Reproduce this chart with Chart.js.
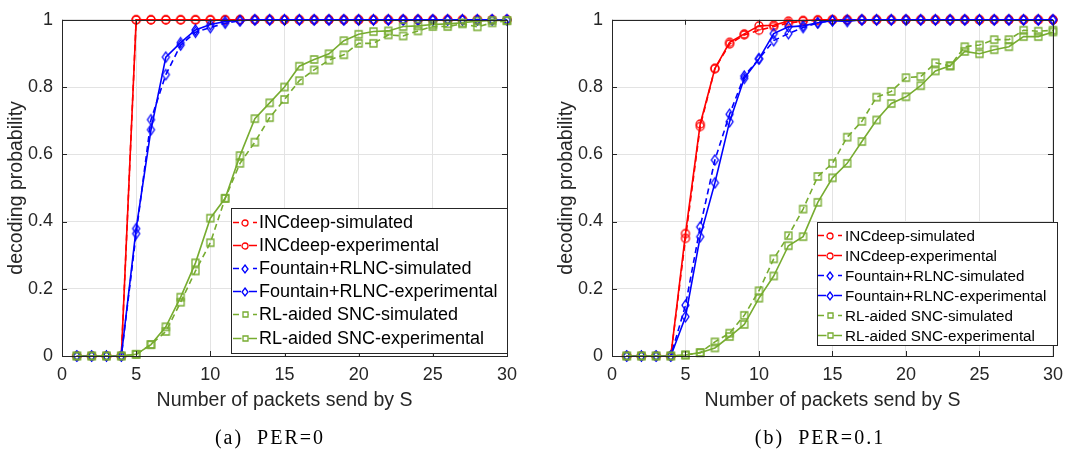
<!DOCTYPE html>
<html lang="en">
<head>
  <meta charset="UTF-8" />
  <title>Decoding probability</title>
  <script src="https://cdn.jsdelivr.net/npm/chart.js"></script>
  <style>
    body { margin: 0; background: #fff; width: 1071px; height: 454px; position: relative; overflow: hidden; }
    .panel { position: absolute; top: 0; }
    .cap { position: absolute; top: 425px; line-height: 24px; font-family: 'Liberation Serif', serif; font-size: 20px;
           color: #000; letter-spacing: 2px; white-space: pre; transform: translateX(-50%); }
  </style>
</head>
<body>
  <div class="panel" style="left:0"><canvas id="chartA" width="535" height="454"></canvas></div>
  <div class="panel" style="left:550px"><canvas id="chartB" width="521" height="454"></canvas></div>
  <div class="cap" style="left:270px">(a)  PER=0</div>
  <div class="cap" style="left:820px">(b)  PER=0.1</div>

  <script>
    // number of packets sent by S
    const packets = [1, 2, 3, 4, 5, 6, 7, 8, 9, 10, 11, 12, 13, 14, 15, 16, 17, 18, 19, 20, 21, 22, 23, 24, 25, 26, 27, 28, 29, 30];
    const xTicks = [0, 5, 10, 15, 20, 25, 30];
    const yTicks = [0, 0.2, 0.4, 0.6, 0.8, 1];
    const yTickLabels = ['0', '0.2', '0.4', '0.6', '0.8', '1'];

    const seriesNames = [
      'INCdeep-simulated', 'INCdeep-experimental',
      'Fountain+RLNC-simulated', 'Fountain+RLNC-experimental',
      'RL-aided SNC-simulated', 'RL-aided SNC-experimental'
    ];

    // (a) PER=0
    const incSimA = [0, 0, 0, 0, 1, 1, 1, 1, 1, 1, 1, 1, 1, 1, 1, 1, 1, 1, 1, 1, 1, 1, 1, 1, 1, 1, 1, 1, 1, 1];
    const incExpA = [0, 0, 0, 0, 1, 1, 1, 1, 1, 1, 1, 1, 1, 1, 1, 1, 1, 1, 1, 1, 1, 1, 1, 1, 1, 1, 1, 1, 1, 1];
    const fouSimA = [0, 0, 0, 0, 0.364, 0.703, 0.837, 0.925, 0.963, 0.977, 0.99, 0.997, 1, 1, 1, 1, 1, 1, 1, 1, 1, 1, 1, 1, 1, 1, 1, 1, 1, 1];
    const fouExpA = [0, 0, 0, 0, 0.379, 0.673, 0.889, 0.932, 0.97, 0.986, 0.995, 0.998, 1, 1, 1, 1, 1, 1, 1, 1, 1, 1, 1, 1, 1, 1, 1, 1, 1, 1];
    const sncSimA = [0, 0, 0, 0, 0.005, 0.034, 0.073, 0.16, 0.253, 0.337, 0.469, 0.573, 0.636, 0.709, 0.763, 0.819, 0.851, 0.88, 0.896, 0.93, 0.93, 0.955, 0.952, 0.967, 0.98, 0.98, 0.988, 0.979, 0.991, 0.997];
    const sncExpA = [0, 0, 0, 0, 0.005, 0.034, 0.087, 0.175, 0.277, 0.41, 0.469, 0.596, 0.706, 0.753, 0.8, 0.862, 0.882, 0.899, 0.938, 0.957, 0.965, 0.967, 0.98, 0.982, 0.986, 0.988, 0.991, 0.996, 0.998, 0.998];

    // (b) PER=0.1
    const incSimB = [0, 0, 0, 0, 0.35, 0.683, 0.855, 0.928, 0.955, 0.969, 0.98, 0.99, 0.996, 0.998, 1, 1, 1, 1, 1, 1, 1, 1, 1, 1, 1, 1, 1, 1, 1, 1];
    const incExpB = [0, 0, 0, 0, 0.364, 0.69, 0.855, 0.933, 0.958, 0.982, 0.984, 0.996, 0.998, 1, 1, 1, 1, 1, 1, 1, 1, 1, 1, 1, 1, 1, 1, 1, 1, 1];
    const fouSimB = [0, 0, 0, 0, 0.151, 0.384, 0.583, 0.719, 0.833, 0.884, 0.938, 0.959, 0.977, 0.991, 0.998, 1, 1, 1, 1, 1, 1, 1, 1, 1, 1, 1, 1, 1, 1, 1];
    const fouExpB = [0, 0, 0, 0, 0.117, 0.355, 0.515, 0.697, 0.826, 0.884, 0.959, 0.979, 0.982, 0.991, 0.997, 0.995, 1, 1, 1, 1, 1, 1, 1, 1, 1, 1, 1, 1, 1, 1];
    const sncSimB = [0, 0, 0, 0, 0.003, 0.01, 0.042, 0.068, 0.121, 0.194, 0.289, 0.358, 0.437, 0.534, 0.573, 0.651, 0.698, 0.77, 0.787, 0.828, 0.831, 0.872, 0.863, 0.92, 0.925, 0.941, 0.941, 0.969, 0.966, 0.969];
    const sncExpB = [0, 0, 0, 0, 0.003, 0.01, 0.024, 0.058, 0.094, 0.172, 0.238, 0.328, 0.355, 0.457, 0.53, 0.573, 0.638, 0.702, 0.751, 0.771, 0.804, 0.848, 0.863, 0.906, 0.899, 0.911, 0.92, 0.95, 0.95, 0.964];

    const RED = '#ff0000', BLUE = '#0000ff', GREEN = '#77ac30';
    const AXIS = '#262626', GRID = '#e3e3e3';
    const FONT = "'Liberation Sans', Arial, sans-serif";

    // open MATLAB-like markers drawn on small canvases
    function marker(shape, color, w, h) {
      const c = document.createElement('canvas');
      c.width = w + 4; c.height = h + 4;
      const g = c.getContext('2d');
      g.strokeStyle = color; g.lineWidth = 1.3;
      const cx = c.width / 2, cy = c.height / 2;
      g.beginPath();
      if (shape === 'circle') g.arc(cx, cy, w / 2, 0, Math.PI * 2);
      else if (shape === 'diamond') {
        g.moveTo(cx, cy - h / 2); g.lineTo(cx + w / 2, cy); g.lineTo(cx, cy + h / 2); g.lineTo(cx - w / 2, cy); g.closePath();
      } else g.rect(cx - w / 2, cy - h / 2, w, h);
      g.stroke();
      return c;
    }

    const plotMarks = [marker('circle', RED, 8, 8), marker('diamond', BLUE, 7, 10), marker('rect', GREEN, 7, 7)];
    const legMarks = [marker('circle', RED, 6, 6), marker('diamond', BLUE, 6, 8), marker('rect', GREEN, 5, 5)];

    function series(i, values) {
      const k = Math.floor(i / 2);
      const color = [RED, BLUE, GREEN][k];
      return {
        label: seriesNames[i],
        data: packets.map((p, j) => ({ x: p, y: values[j] })),
        borderColor: color,
        backgroundColor: color,
        borderWidth: 1.6,
        borderDash: i % 2 === 0 ? [6, 4] : [],
        pointStyle: plotMarks[k],
        pointRadius: 4,
        tension: 0,
        fill: false,
        clip: false,
        order: [2, 1, 0][k],
        legendMark: legMarks[k]
      };
    }

    // box with inward ticks, like the MATLAB axes
    const frame = {
      id: 'frame',
      afterDatasetsDraw(chart) {
        const { ctx, chartArea: a, scales: { x, y } } = chart;
        ctx.save();
        ctx.strokeStyle = AXIS;
        ctx.lineWidth = 1;
        ctx.strokeRect(Math.round(a.left) + 0.5, Math.round(a.top) + 0.5, Math.round(a.right - a.left), Math.round(a.bottom - a.top));
        ctx.beginPath();
        xTicks.forEach(v => {
          const px = Math.round(x.getPixelForValue(v)) + 0.5;
          ctx.moveTo(px, a.bottom); ctx.lineTo(px, a.bottom - 5);
          ctx.moveTo(px, a.top); ctx.lineTo(px, a.top + 5);
        });
        yTicks.forEach(v => {
          const py = Math.round(y.getPixelForValue(v)) + 0.5;
          ctx.moveTo(a.left, py); ctx.lineTo(a.left + 5, py);
          ctx.moveTo(a.right, py); ctx.lineTo(a.right - 5, py);
        });
        ctx.stroke();
        ctx.restore();
      }
    };

    // legend box inside the axes
    const legendBox = {
      id: 'legendBox',
      afterDraw(chart, args, o) {
        const { ctx } = chart;
        ctx.save();
        ctx.fillStyle = '#fff';
        ctx.fillRect(o.left, o.top, o.right - o.left, o.bottom - o.top);
        ctx.strokeStyle = AXIS;
        ctx.lineWidth = 1;
        ctx.strokeRect(o.left + 0.5, o.top + 0.5, o.right - o.left, o.bottom - o.top);
        ctx.font = o.size + 'px ' + FONT;
        ctx.textBaseline = 'middle';
        chart.data.datasets.forEach((ds, i) => {
          const yy = Math.round(o.y0 + i * o.dy) + 0.5;
          ctx.strokeStyle = ds.borderColor;
          ctx.lineWidth = 1.5;
          ctx.setLineDash(ds.borderDash);
          ctx.beginPath();
          ctx.moveTo(o.lx0, yy); ctx.lineTo(o.lx1, yy);
          ctx.stroke();
          ctx.setLineDash([]);
          const m = ds.legendMark;
          ctx.fillStyle = '#fff';
          ctx.fillRect(o.mx - m.width / 2 + 1, yy - m.height / 2 + 1, m.width - 2, m.height - 2);
          ctx.drawImage(m, Math.round(o.mx - m.width / 2), Math.round(yy - m.height / 2));
          ctx.fillStyle = '#000';
          ctx.fillText(ds.label, o.tx, yy + 1);
        });
        ctx.restore();
      }
    };

    function makeChart(id, sets, leg, padRight) {
      return new Chart(document.getElementById(id), {
        type: 'line',
        data: { datasets: sets.map((v, i) => series(i, v)) },
        options: {
          responsive: false,
          animation: false,
          events: [],
          layout: { padding: { left: 0, right: padRight, top: 12, bottom: 38 } },
          plugins: { legend: { display: false }, tooltip: { enabled: false }, legendBox: leg },
          scales: {
            x: {
              type: 'linear', min: 0, max: 30,
              afterBuildTicks: s => { s.ticks = xTicks.map(v => ({ value: v })); },
              afterFit: s => { s.height = 60; },
              grid: { color: GRID, drawTicks: false },
              border: { display: false },
              ticks: { color: AXIS, font: { family: FONT, size: 18 }, padding: 8, maxRotation: 0, autoSkip: false },
              title: { display: true, text: 'Number of packets send by S', color: AXIS,
                       font: { family: FONT, size: 19.5 }, padding: { top: 2, bottom: 4 } }
            },
            y: {
              min: 0, max: 1,
              afterBuildTicks: s => { s.ticks = yTicks.map(v => ({ value: v })); },
              afterFit: s => { s.width = 62; },
              grid: { color: GRID, drawTicks: false },
              border: { display: false },
              ticks: { color: AXIS, font: { family: FONT, size: 18 }, padding: 9,
                       callback: (v, i) => yTickLabels[i] },
              title: { display: true, text: 'decoding probability', color: AXIS,
                       font: { family: FONT, size: 19.5 }, padding: { top: 5, bottom: 0 } }
            }
          }
        },
        plugins: [frame, legendBox]
      });
    }

    makeChart('chartA', [incSimA, incExpA, fouSimA, fouExpA, sncSimA, sncExpA],
      { left: 231, top: 208, right: 507, bottom: 353, y0: 222, dy: 23.1, lx0: 233, lx1: 257, mx: 245, tx: 259, size: 18 }, 28);

    makeChart('chartB', [incSimB, incExpB, fouSimB, fouExpB, sncSimB, sncExpB],
      { left: 267, top: 222, right: 507, bottom: 345, y0: 235, dy: 19.9, lx0: 268, lx1: 292, mx: 280, tx: 295, size: 15.2 }, 13);
  </script>
</body>
</html>
